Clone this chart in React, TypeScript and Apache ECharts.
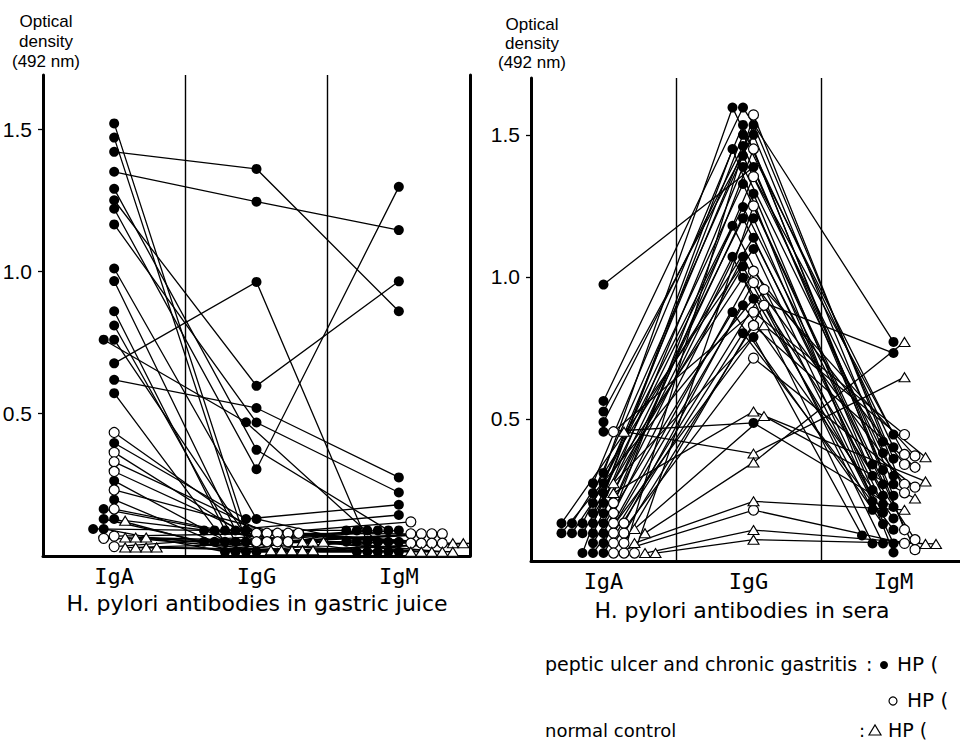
import React, { useEffect, useRef } from 'react';
import * as echarts from 'echarts';

// ---------- texts ----------
const CATEGORIES = ['IgA', 'IgG', 'IgM'];
const Y_TICKS = [0.5, 1.0, 1.5];
const Y_TITLE = 'Optical\ndensity\n(492 nm)';
const PANEL_TITLES = ['H. pylori antibodies in gastric juice', 'H. pylori antibodies in sera'];
const LEGEND_GROUPS = ['peptic ulcer and chronic gastritis', 'normal control'];
const LEGEND_HP = 'HP (';

// ---------- data: each subject = [IgA, IgG, IgM] optical density ----------
// gastric juice, peptic ulcer / chronic gastritis, filled circles
const juiceFilled = [
  [1.52, 0.09, 0.05], [1.47, 0.05, 0.09], [1.42, 1.36, 0.86], [1.35, 1.245, 1.145],
  [1.29, 0.373, 0.09], [1.25, 0.598, 0.965], [1.22, 0.305, 1.297], [1.165, 0.469, 0.223],
  [1.01, 0.13, 0.015], [0.966, 0.09, 0.05], [0.86, 0.09, 0.144], [0.81, 0.05, 0.09],
  [0.76, 0.015, 0.015], [0.76, 0.47, 0.05], [0.677, 0.963, 0.05], [0.619, 0.52, 0.276],
  [0.572, 0.05, 0.09], [0.397, 0.13, 0.18], [0.264, 0.015, 0.05], [0.198, 0.05, 0.015],
  [0.165, 0.09, 0.015], [0.13, 0.015, 0.09], [0.13, 0.05, 0.05], [0.095, 0.015, 0.015],
  [0.095, 0.09, 0.09],
];
// gastric juice, open circles
const juiceOpen = [
  [0.434, 0.08, 0.078], [0.364, 0.05, 0.045], [0.331, 0.08, 0.12], [0.297, 0.05, 0.078],
  [0.232, 0.08, 0.045], [0.165, 0.05, 0.078], [0.07, 0.08, 0.045], [0.062, 0.05, 0.078],
  [0.033, 0.08, 0.045],
];
// gastric juice, normal control triangles
const juiceTri = [
  [0.124, 0.05, 0.045], [0.065, 0.02, 0.015], [0.065, 0.05, 0.015], [0.03, 0.02, 0.045],
  [0.065, 0.02, 0.015], [0.03, 0.05, 0.015], [0.03, 0.02, 0.045], [0.03, 0.02, 0.015],
];
// sera, filled circles
const seraFilled = [
  [0.973, 1.387, 0.23], [0.563, 1.596, 0.771], [0.526, 1.5, 0.3], [0.489, 1.461, 0.27],
  [0.455, 0.486, 0.19], [0.31, 1.596, 0.4], [0.274, 1.535, 0.36], [0.274, 1.535, 0.32],
  [0.239, 1.5, 0.445], [0.239, 1.426, 0.42], [0.204, 1.387, 0.38], [0.204, 1.327, 0.34],
  [0.168, 1.293, 0.3], [0.168, 1.246, 0.27], [0.133, 1.206, 0.25], [0.133, 1.206, 0.23],
  [0.133, 1.18, 0.21], [0.133, 1.138, 0.2], [0.133, 1.098, 0.062], [0.098, 1.071, 0.062],
  [0.098, 1.071, 0.062], [0.098, 1.037, 0.18], [0.098, 0.997, 0.17], [0.098, 0.923, 0.732],
  [0.063, 0.9, 0.15], [0.063, 0.876, 0.13], [0.028, 0.802, 0.11], [0.028, 0.788, 0.09],
  [0.028, 1.45, 0.03],
];
// sera, open circles
const seraOpen = [
  [0.455, 0.876, 0.445], [0.204, 1.353, 0.375], [0.133, 1.02, 0.34], [0.133, 0.98, 0.27],
  [0.098, 0.956, 0.37], [0.098, 0.829, 0.33], [0.063, 0.714, 0.26], [0.028, 0.179, 0.062],
  [0.028, 1.57, 0.24], [0.168, 1.45, 0.11], [0.063, 0.9, 0.075], [0.028, 1.25, 0.04],
];
// sera, normal control triangles
const seraTri = [
  [0.274, 0.83, 0.365], [0.239, 0.526, 0.28], [0.113, 0.51, 0.22], [0.455, 0.378, 0.647],
  [0.098, 0.347, 0.771], [0.063, 0.21, 0.18], [0.028, 0.109, 0.06], [0.028, 0.075, 0.06],
];

// ---------- layout (positions/styles only) ----------
type G = 'filled' | 'open' | 'tri';
const PANELS: any[] = [
  {
    left: 43, top: 75, width: 427, height: 481, ymax: 1.69, border: true,
    data: { filled: juiceFilled, open: juiceOpen, tri: juiceTri },
    cols: [
      { order: ['open', 'filled', 'tri'], open: { base: 0, dir: -1 }, filled: { base: 0, dir: -1 }, tri: { base: 11, dir: 1 } },
      { order: ['open', 'filled', 'tri'], open: { base: 0, dir: 1 }, filled: { base: 0, dir: -1 }, tri: { base: 4, dir: 1 } },
      { order: ['filled', 'open', 'tri'], filled: { base: 0, dir: -1 }, open: { base: 12, dir: 1 }, tri: { base: 12, dir: 1 } },
    ],
  },
  {
    left: 531, top: 78, width: 435, height: 483, ymax: 1.7, border: false,
    data: { filled: seraFilled, open: seraOpen, tri: seraTri },
    cols: [
      { order: ['filled', 'open', 'tri'], filled: { base: 0, dir: -1 }, open: { base: 10, dir: 1 }, tri: { base: 10, dir: 1 } },
      { order: ['open', 'filled', 'tri'], open: { base: 5, dir: 1 }, filled: { base: 5, dir: -1 }, tri: { base: 5, dir: 1 } },
      { order: ['filled', 'open', 'tri'], filled: { base: 0, dir: -1 }, open: { base: 11, dir: 1 }, tri: { base: 11, dir: 1 } },
    ],
  },
];
const STEP = 10.5;
const COLL_X = 9.5;
const COLL_Y = 8;

// dot-plot stacking: markers that would overlap are shifted sideways
function swarm(P: any) {
  const ux = P.width / 3;
  const uy = P.height / P.ymax;
  const groups: Record<G, number[][]> = P.data;
  const out: Record<G, number[][][]> = {
    filled: groups.filled.map(() => []),
    open: groups.open.map(() => []),
    tri: groups.tri.map(() => []),
  };
  for (let c = 0; c < 3; c++) {
    const col = P.cols[c];
    const placed: number[][] = [];
    for (const g of col.order as G[]) {
      const { base, dir } = col[g];
      groups[g].forEach((s, i) => {
        const py = s[c] * uy;
        let px = 0;
        for (let k = 0; k < 40; k++) {
          px = (c + 0.5) * ux + base + dir * k * STEP;
          const hit = placed.some(([qx, qy]) => Math.abs(qx - px) < COLL_X && Math.abs(qy - py) < COLL_Y);
          if (!hit) break;
        }
        placed.push([px, py]);
        out[g][i][c] = [px / ux, s[c]];
      });
    }
  }
  return out;
}

const FONT_SANS = '"Liberation Sans", Arial, sans-serif';
const FONT_WIDE = '"DejaVu Sans", sans-serif';

function buildOption() {
  const grid: any[] = [];
  const xAxis: any[] = [];
  const yAxis: any[] = [];
  const series: any[] = [];

  PANELS.forEach((P, p) => {
    grid.push({ left: P.left, top: P.top, width: P.width, height: P.height, containLabel: false, outerBoundsMode: 'none' });
    xAxis.push({
      type: 'value', gridIndex: p, min: 0, max: 3, interval: 1, position: 'bottom',
      axisLine: { show: true, onZero: false, lineStyle: { color: '#000', width: 3 } },
      axisTick: { show: false },
      axisLabel: {
        customValues: [0.5, 1.5, 2.5],
        formatter: (v: number) => CATEGORIES[Math.round(v - 0.5)] ?? '',
        fontFamily: '"DejaVu Sans Mono", monospace', fontSize: 22, color: '#000', margin: 9,
      },
      splitLine: { show: true, lineStyle: { color: '#000', width: 1.4 } },
    });
    const yMain = yAxis.length;
    yAxis.push({
      type: 'value', gridIndex: p, min: 0, max: P.ymax, position: 'left',
      axisLine: { show: true, onZero: false, lineStyle: { color: '#000', width: 3 } },
      axisTick: { show: true, customValues: Y_TICKS, length: 5, lineStyle: { color: '#000', width: 1.3 } },
      axisLabel: {
        customValues: Y_TICKS,
        formatter: (v: number) => v.toFixed(1),
        fontFamily: FONT_SANS,
        fontSize: 21, color: '#000', margin: 11,
      },
      splitLine: { show: false },
    });
    if (P.border) {
      yAxis.push({
        type: 'value', gridIndex: p, min: 0, max: P.ymax, position: 'right',
        axisLine: { show: true, onZero: false, lineStyle: { color: '#000', width: 3 } },
        axisTick: { show: false }, axisLabel: { show: false }, splitLine: { show: false },
      });
    }
    const pos = swarm(P);
    series.push({
      type: 'lines', coordinateSystem: 'cartesian2d', xAxisIndex: p, yAxisIndex: yMain,
      polyline: true, silent: true, z: 2,
      lineStyle: { color: '#000', width: 1.3, opacity: 1 },
      data: [...pos.filled, ...pos.open, ...pos.tri].map((c) => ({ coords: c })),
    });
    series.push({
      type: 'scatter', xAxisIndex: p, yAxisIndex: yMain, silent: true, z: 3,
      symbol: 'circle', symbolSize: 10,
      itemStyle: { color: '#000', opacity: 1 },
      data: pos.filled.flat(),
    });
    series.push({
      type: 'scatter', xAxisIndex: p, yAxisIndex: yMain, silent: true, z: 4,
      symbol: 'circle', symbolSize: 10,
      itemStyle: { color: '#fff', borderColor: '#000', borderWidth: 1.2, opacity: 1 },
      data: pos.open.flat(),
    });
    series.push({
      type: 'scatter', xAxisIndex: p, yAxisIndex: yMain, silent: true, z: 5,
      symbol: 'triangle', symbolSize: [11, 9],
      itemStyle: { color: '#fff', borderColor: '#000', borderWidth: 1.1, opacity: 1 },
      data: pos.tri.flat(),
    });
  });

  const txt = (x: number, y: number, text: string, size: number, align = 'left', family = FONT_WIDE) => ({
    type: 'text', x, y, silent: true,
    style: { text, fill: '#000', fontSize: size, fontFamily: family, align, verticalAlign: 'middle' },
  });

  const graphic: any[] = [
    { type: 'text', x: 46, y: 11, silent: true, style: { text: Y_TITLE, fill: '#000', fontSize: 17, fontFamily: FONT_SANS, align: 'center', verticalAlign: 'top', lineHeight: 20 } },
    { type: 'text', x: 532, y: 15, silent: true, style: { text: Y_TITLE, fill: '#000', fontSize: 17, fontFamily: FONT_SANS, align: 'center', verticalAlign: 'top', lineHeight: 19 } },
    txt(257, 603, PANEL_TITLES[0], 22, 'center'),
    txt(742, 610, PANEL_TITLES[1], 22, 'center'),
    // legend
    txt(545, 664, LEGEND_GROUPS[0], 19),
    txt(866, 664, ':', 19),
    { type: 'circle', silent: true, shape: { cx: 884, cy: 665, r: 4 }, style: { fill: '#000' } },
    txt(897, 664, LEGEND_HP, 20),
    { type: 'circle', silent: true, shape: { cx: 893, cy: 701, r: 4 }, style: { fill: '#fff', stroke: '#000', lineWidth: 1.2 } },
    txt(907, 700, LEGEND_HP, 20),
    txt(545, 730, LEGEND_GROUPS[1], 18),
    txt(859, 730, ':', 18),
    { type: 'polygon', silent: true, shape: { points: [[869, 735], [881, 735], [875, 725]] }, style: { fill: '#fff', stroke: '#000', lineWidth: 1.2 } },
    txt(888, 730, LEGEND_HP, 19),
  ];

  return {
    animation: false,
    backgroundColor: '#fff',
    textStyle: { fontFamily: FONT_SANS, color: '#000' },
    grid, xAxis, yAxis, series, graphic,
  };
}

export default function App() {
  const ref = useRef<HTMLDivElement>(null);
  useEffect(() => {
    document.body.style.margin = '0';
    if (!ref.current) return;
    const chart = echarts.init(ref.current, undefined, { renderer: 'svg' });
    chart.setOption(buildOption() as any);
    return () => chart.dispose();
  }, []);
  return <div ref={ref} style={{ width: 960, height: 744, background: '#fff' }} />;
}
